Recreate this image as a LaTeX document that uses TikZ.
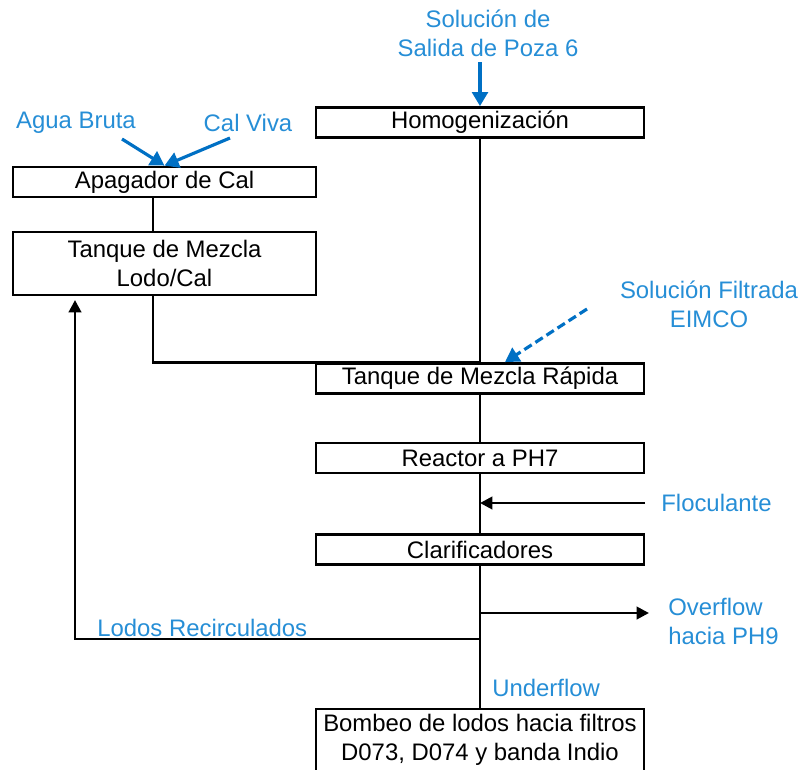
\documentclass[tikz,border=0pt]{standalone}
\usepackage{fontspec}
\setmainfont{Liberation Sans}
\usetikzlibrary{arrows.meta}
\definecolor{flujoazul}{RGB}{38,142,214}
\definecolor{azulflecha}{RGB}{0,112,196}

\begin{document}
\begin{tikzpicture}[x=0.02cm,y=-0.02cm,
	font=\fontsize{13.6}{16.5}\selectfont,
	caja/.style={draw,line width=1.6pt,minimum width=6.56cm,minimum height=0.6cm,inner sep=0pt,align=center},
	cajacal/.style={caja,minimum width=6.06cm},
	entrada/.style={text=flujoazul,align=center,inner sep=0pt},
	linea/.style={line width=1.6pt},
	flecha/.style={line width=1.6pt,-{Triangle[length=7pt,width=7pt]}},
	flechaazul/.style={draw=azulflecha,line width=1.8pt,-{Triangle[length=8pt,width=9pt]}}]

	\useasboundingbox (0,0) rectangle (809,769);

	% Linea principal
	\node (hom) at (480,122.5) [caja] {Homogenización};
	\node (rapida) at (480,378.5) [caja] {Tanque de Mezcla Rápida};
	\node (reactor) at (480,458) [caja] {Reactor a PH7};
	\node (clarif) at (480,549.5) [caja] {Clarificadores};
	\node (bombeo) at (480,740) [caja,minimum height=1.24cm] {Bombeo de lodos hacia filtros\\D073, D074 y banda Indio};

	% Preparacion de cal
	\node (apag) at (164.5,182) [cajacal] {Apagador de Cal};
	\node (lodocal) at (164.5,263.5) [cajacal,minimum height=1.26cm] {Tanque de Mezcla\\Lodo/Cal};

	% Entradas y salidas
	\node (poza) at (488,33) [entrada] {Solución de\\Salida de Poza 6};
	\node (agua) at (76,123) [entrada] {Agua Bruta};
	\node (calviva) at (248,123) [entrada] {Cal Viva};
	\node (filtrada) at (709,304) [entrada] {Solución Filtrada\\EIMCO};
	\node (flocul) at (661,503) [entrada,anchor=west] {Floculante};
	\node (overflow) at (668,621) [entrada,anchor=west,align=left] {Overflow\\hacia PH9};
	\node (lodosrec) at (97,628) [entrada,anchor=west] {Lodos Recirculados};
	\node (underflow) at (492,688) [entrada,anchor=west] {Underflow};

	\coordinate (lk) at (153,0);
	\coordinate (s6) at (480,62);
	\coordinate (ab) at (122,139);
	\coordinate (cv) at (230,138);
	\coordinate (fe) at (587,309);
	\coordinate (fl) at (645,503);
	\coordinate (ovi) at (480,613);
	\coordinate (ovf) at (649,613);
	\coordinate (lr) at (480,639);
	\coordinate (lrf) at (75,300);

	\draw[linea] (hom.south) -- (rapida.north);
	\draw[linea] (rapida.south) -- (reactor.north);
	\draw[linea] (reactor.south) -- (clarif.north);
	\draw[linea] (clarif.south) -- (bombeo.north);
	\draw[linea] (apag.south -| lk) -- (lodocal.north -| lk);
	\draw[linea] (lodocal.south -| lk) |- (rapida.north);

	\draw[flechaazul] (s6) -- (hom.north);
	\draw[flechaazul] (ab) -- (apag.north);
	\draw[flechaazul] (cv) -- (apag.north);
	\draw[flechaazul,dash pattern=on 5pt off 2.5pt] (fe) -- ([xshift=0.5cm]rapida.north);

	\draw[flecha] (fl) -- (fl -| hom.south);
	\draw[flecha] (ovi) -- (ovf);
	\draw[flecha] (lr) -| (lrf);

\end{tikzpicture}
\end{document}
